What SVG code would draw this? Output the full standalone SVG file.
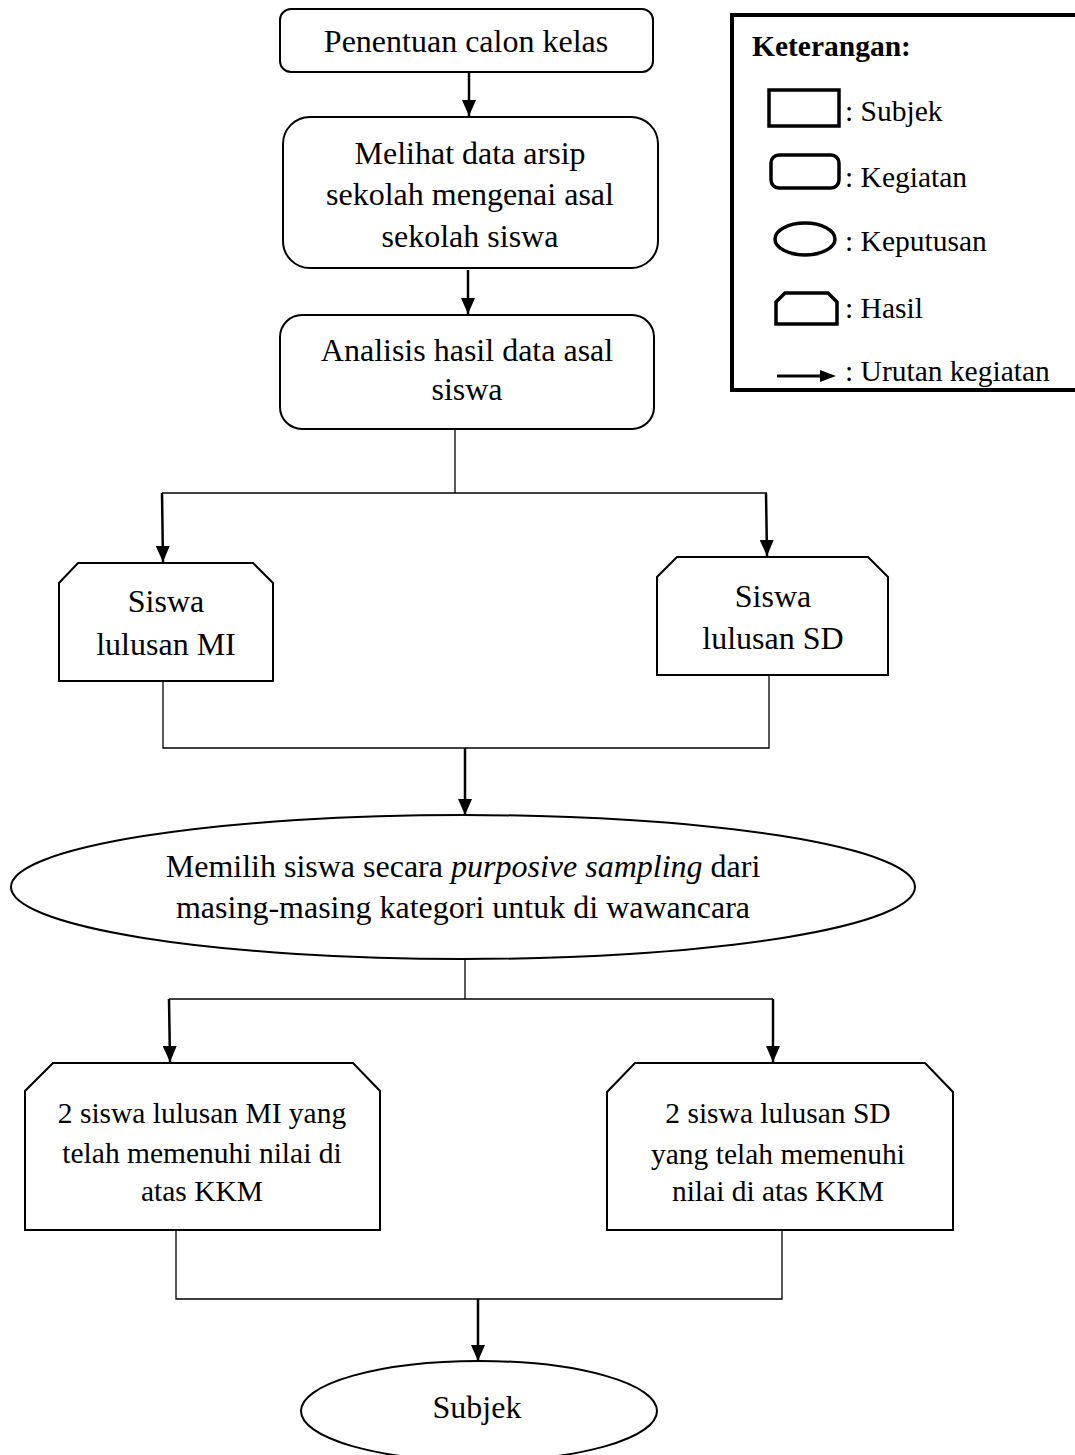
<svg xmlns="http://www.w3.org/2000/svg" width="1075" height="1455" viewBox="0 0 1075 1455">
<style>
  text { font-family: "Liberation Serif", "Times New Roman", serif; font-size: 32px; fill: #000; text-anchor: middle; }
  .sm { font-size: 29.5px; }
  .lg { font-size: 29.5px; text-anchor: start; }
  .node { fill: #fff; stroke: #000; stroke-width: 2; }
  .thin { fill: none; stroke: #000; stroke-width: 1.3; }
  .arr { fill: none; stroke: #000; stroke-width: 2.5; marker-end: url(#ah); }
  .sym { fill: #fff; stroke: #000; stroke-width: 3.5; }
</style>
<defs>
  <marker id="ah" markerWidth="16" markerHeight="14" refX="16" refY="7" orient="auto" markerUnits="userSpaceOnUse" viewBox="0 0 16 14">
    <path d="M0,0 L16,7 L0,14 Z" fill="#000"/>
  </marker>
</defs>

<g id="legend">
  <rect x="732" y="15" width="360" height="375" fill="#fff" stroke="#000" stroke-width="4"/>
  <text class="lg" x="752" y="56" font-weight="bold">Keterangan:</text>
  <rect class="sym" x="769" y="90" width="70" height="36"/>
  <text class="lg" x="845" y="121">: Subjek</text>
  <rect class="sym" x="771" y="155" width="68" height="33" rx="8"/>
  <text class="lg" x="845" y="187">: Kegiatan</text>
  <ellipse class="sym" cx="805" cy="239" rx="30" ry="16"/>
  <text class="lg" x="845" y="251">: Keputusan</text>
  <path class="sym" d="M776,324 V302 L785,293 H828 L837,302 V324 Z"/>
  <text class="lg" x="845" y="318">: Hasil</text>
  <line x1="777" y1="376" x2="822" y2="376" stroke="#000" stroke-width="3"/>
  <path d="M820,370 L836,376 L820,382 Z" fill="#000"/>
  <text class="lg" x="845" y="381">: Urutan kegiatan</text>
</g>

<g id="connectors">
  <line class="arr" x1="469" y1="73" x2="469" y2="116"/>
  <line class="arr" x1="468" y1="270" x2="468" y2="314"/>
  <polyline class="thin" points="455,429 455,493"/>
  <polyline class="thin" points="162,493 767,493"/>
  <line class="arr" x1="162" y1="493" x2="163" y2="562"/>
  <line class="arr" x1="766" y1="493" x2="767" y2="556"/>
  <polyline class="thin" points="163,681 163,748 769,748 769,675"/>
  <line class="arr" x1="465" y1="748" x2="465" y2="815"/>
  <polyline class="thin" points="465,960 465,999"/>
  <polyline class="thin" points="169,999 773,999"/>
  <line class="arr" x1="169" y1="999" x2="170" y2="1062"/>
  <line class="arr" x1="773" y1="999" x2="773" y2="1062"/>
  <polyline class="thin" points="176,1230 176,1299 782,1299 782,1230"/>
  <line class="arr" x1="478" y1="1299" x2="478" y2="1361"/>
</g>

<g id="n1">
  <rect class="node" x="280" y="9" width="373" height="63" rx="11"/>
  <text x="466" y="52">Penentuan calon kelas</text>
</g>
<g id="n2">
  <rect class="node" x="283" y="117" width="375" height="151" rx="27"/>
  <text x="470" y="164">Melihat data arsip</text>
  <text x="470" y="205">sekolah mengenai asal</text>
  <text x="470" y="247">sekolah siswa</text>
</g>
<g id="n3">
  <rect class="node" x="280" y="315" width="374" height="114" rx="22"/>
  <text x="467" y="361">Analisis hasil data asal</text>
  <text x="467" y="400">siswa</text>
</g>
<g id="n4">
  <path class="node" d="M59,681 V583 L78,563 H253 L273,583 V681 Z"/>
  <text x="166" y="612">Siswa</text>
  <text x="166" y="655">lulusan MI</text>
</g>
<g id="n5">
  <path class="node" d="M657,675 V577 L677,557 H868 L888,577 V675 Z"/>
  <text x="773" y="607">Siswa</text>
  <text x="773" y="649">lulusan SD</text>
</g>
<g id="n6">
  <ellipse class="node" cx="463" cy="887" rx="452" ry="72"/>
  <text x="463" y="877">Memilih siswa secara <tspan font-style="italic">purposive sampling</tspan> dari</text>
  <text x="463" y="918">masing-masing kategori untuk di wawancara</text>
</g>
<g id="n7">
  <path class="node" d="M25,1230 V1091 L53,1063 H353 L380,1091 V1230 Z"/>
  <text class="sm" x="202" y="1123">2 siswa lulusan MI yang</text>
  <text class="sm" x="202" y="1163">telah memenuhi nilai di</text>
  <text class="sm" x="202" y="1201">atas KKM</text>
</g>
<g id="n8">
  <path class="node" d="M607,1230 V1092 L635,1063 H925 L953,1092 V1230 Z"/>
  <text class="sm" x="778" y="1123">2 siswa lulusan SD</text>
  <text class="sm" x="778" y="1164">yang telah memenuhi</text>
  <text class="sm" x="778" y="1201">nilai di atas KKM</text>
</g>
<g id="n9">
  <ellipse class="node" cx="479" cy="1411" rx="178" ry="50" stroke-width="2.5"/>
  <text x="477" y="1418">Subjek</text>
</g>
</svg>
